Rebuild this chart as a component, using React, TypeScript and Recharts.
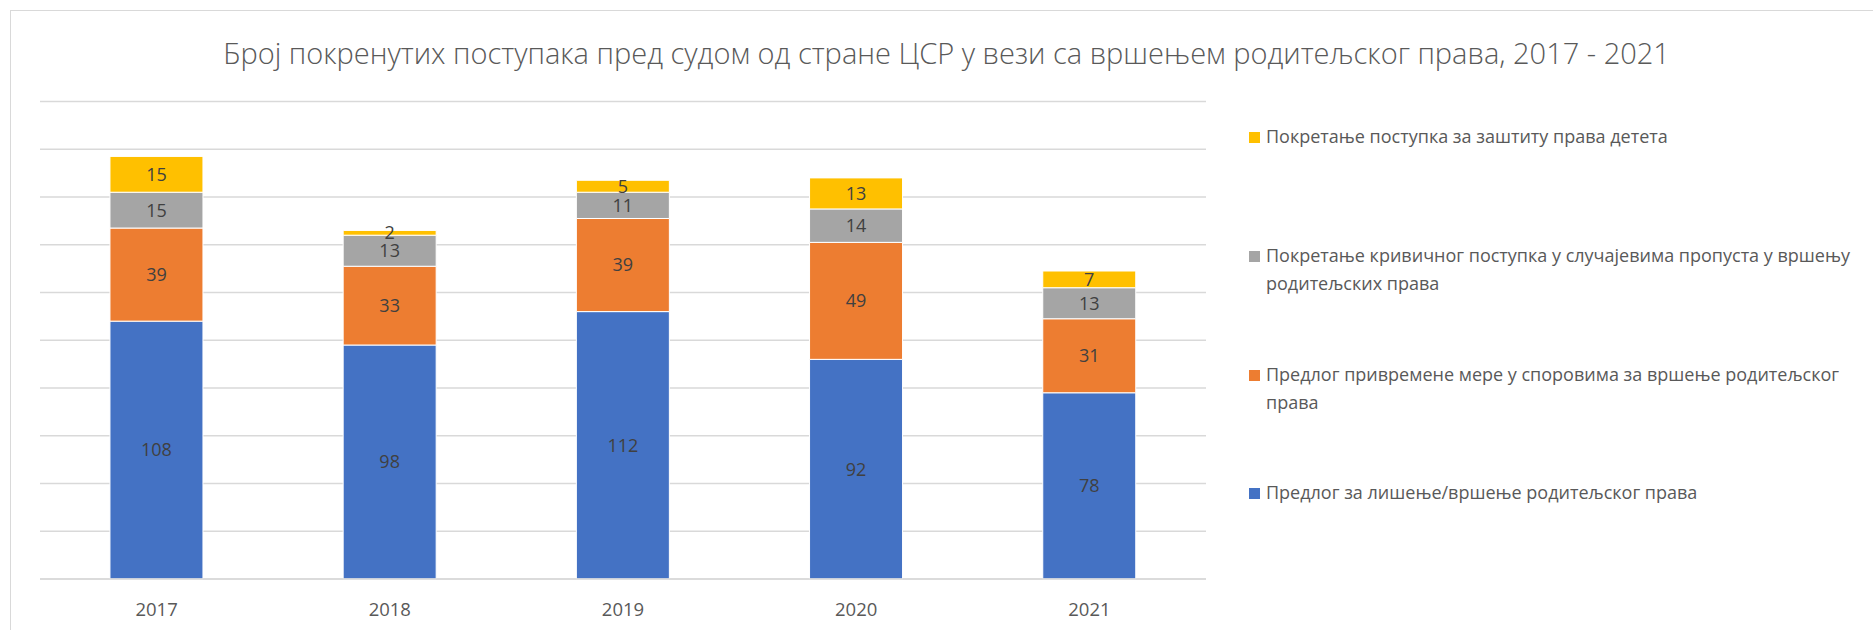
import { BarChart, Bar, XAxis, YAxis, CartesianGrid, LabelList, Legend } from 'recharts'

const years = ['2017', '2018', '2019', '2020', '2021']
const deprivation = [108, 98, 112, 92, 78]
const interimMeasure = [39, 33, 39, 49, 31]
const criminalProc = [15, 13, 11, 14, 13]
const childProtection = [15, 2, 5, 13, 7]
const yTicks = [0, 20, 40, 60, 80, 100, 120, 140, 160, 180, 200]

const series = [
  { key: 'a', name: 'Предлог за лишење/вршење родитељског права', color: '#4472C4', values: deprivation },
  { key: 'b', name: 'Предлог привремене мере у споровима за вршење родитељског права', color: '#ED7D31', values: interimMeasure },
  { key: 'c', name: 'Покретање кривичног поступка у случајевима пропуста у вршењу родитељских права', color: '#A5A5A5', values: criminalProc },
  { key: 'd', name: 'Покретање поступка за заштиту права детета', color: '#FFC000', values: childProtection },
]

const data = years.map((year, i) => {
  const row: any = { year }
  series.forEach(s => { row[s.key] = s.values[i] })
  return row
})

const FONT = '"Open Sans", sans-serif'

function LegendBox() {
  const tops = [137, 256, 375, 493]
  return (
    <div>
      {[...series].reverse().map((s, i) => (
        <div key={s.key} style={{ position: 'absolute', left: 1249, top: tops[i] - 13, width: 615, display: 'flex', alignItems: 'flex-start' }}>
          <span style={{ width: 11, height: 11, background: s.color, marginTop: 8, marginRight: 6, flex: 'none' }} />
          <span style={{ fontFamily: FONT, fontSize: 18, color: '#595959', lineHeight: '28px', marginTop: -2 }}>{s.name}</span>
        </div>
      ))}
    </div>
  )
}

export default function App() {
  return (
    <div style={{ position: 'absolute', left: 0, top: 0, width: 1873, height: 630, background: '#fff', overflow: 'hidden' }}>
      <div style={{ position: 'absolute', left: 10, top: 10, width: 1900, height: 700, border: '1.5px solid #d9d9d9' }} />
      <div style={{ position: 'absolute', left: 0, width: 1893, top: 33, textAlign: 'center', fontFamily: FONT, fontWeight: 300, fontSize: 29, color: '#595959' }}>
        Број покренутих поступака пред судом од стране ЦСР у вези са вршењем родитељског права, 2017 - 2021
      </div>
      <BarChart width={1873} height={630} data={data} margin={{ top: 101.5, left: 40, right: 667, bottom: 21 }} barCategoryGap="30%" style={{ position: 'absolute', left: 0, top: 0 }}>
        <CartesianGrid vertical={false} stroke="#d9d9d9" strokeWidth={1.5} />
        <YAxis hide domain={[0, 200]} ticks={yTicks} />
        <XAxis dataKey="year" height={30} axisLine={{ stroke: '#d9d9d9', strokeWidth: 1.5 }} tickLine={false} tick={{ fill: '#595959', fontSize: 18.5, fontFamily: FONT }} tickMargin={18} />
        {series.map(s => (
          <Bar key={s.key} dataKey={s.key} name={s.name} stackId="s" fill={s.color} stroke="#fff" strokeWidth={1} isAnimationActive={false}>
            <LabelList dataKey={s.key} position="center" fill="#404040" fontSize={18} fontFamily={FONT} />
          </Bar>
        ))}
        <Legend content={<LegendBox />} wrapperStyle={{ position: 'absolute', left: 0, top: 0, width: 0, height: 0 }} />
      </BarChart>
    </div>
  )
}
